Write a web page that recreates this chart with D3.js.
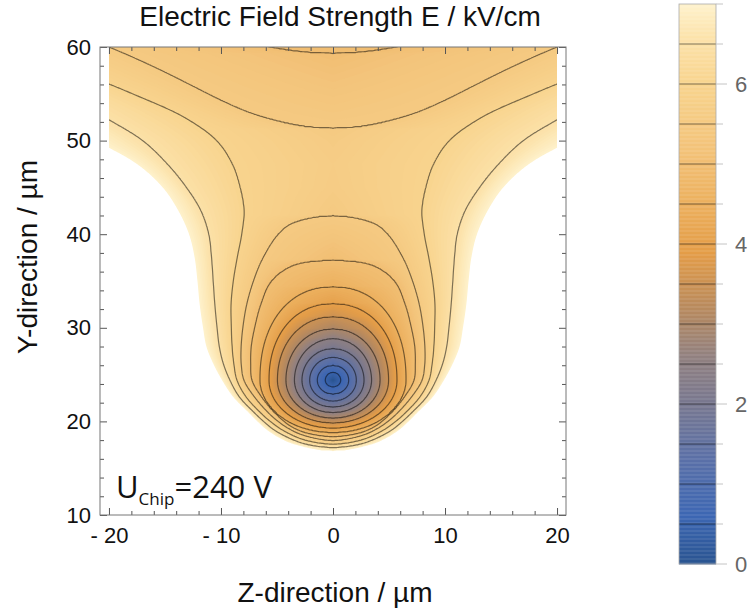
<!DOCTYPE html>
<html><head><meta charset="utf-8">
<script src="https://cdn.jsdelivr.net/npm/d3@7"></script>
<style>body{margin:0;background:#fff}svg{display:block}</style>
</head><body>
<svg id="c" width="750" height="612"></svg>
<script>
// ================= data =================
const trapCenterY = 24.4;                                   // field minimum on Z = 0 (µm)
const contourLevels = [0.5, 1, 1.5, 2, 2.5, 3, 3.5, 4, 4.5, 5, 5.5, 6, 6.5];
const plotRangeMax = 7;
// inner closed level lines (kV/cm) around the trap: half width, extent up, extent down (µm)
const innerLevels  = [0.5, 1.0, 1.5, 2.0, 2.5, 3.0, 3.5, 4.0, 4.5];
const innerHalfW   = [0.69, 1.40, 2.08, 2.77, 3.44, 4.20, 4.96, 5.71, 6.52];
const innerTop     = [0.85, 1.60, 2.45, 3.40, 4.45, 5.50, 6.80, 8.20, 10.0];
const innerBottom  = [0.72, 1.50, 2.24, 2.88, 3.47, 4.06, 4.59, 5.13, 5.61];
const innerShapeTop = [2, 2, 2, 2, 2, 2.05, 2.1, 2.15, 2.2];
// outer level lines: [|Z|, Y] in µm, from the bottom upward
const outerLevels = [5.0, 5.5, 6.0, 6.5, 7.0];
const line50 = [[0,18.36],[2.5,18.8],[3.8,19.5],[4.35,20],[5.15,20.9],[6.35,22.6],[7.23,24.4],[7.35,26.2],[7.3,28],[7.0,30],[6.45,32.5],[5.5,35],[3.5,36.7],[0,37.22]];
const line55 = [[0,17.94],[2.6,18.5],[3.9,19.2],[4.9,20],[5.75,20.9],[7.0,22.6],[7.95,24.4],[8.2,26.2],[8.2,28],[8.05,30],[7.7,32.5],[7.1,35],[6.25,37.5],[4.9,40],[3.6,41.2],[0,42.0]];
const line60 = [[0,17.56],[2.5,18],[4.4,19],[5.6,20],[6.45,20.9],[7.75,22.6],[8.57,24.4],[8.85,26.2],[9.0,28],[9.07,30],[9.1,32.5],[8.9,35],[8.55,37.5],[8.15,40],[7.95,42.5],[8.3,45],[9.0,47.5],[10.4,50],[13.3,52.5],[17.9,55],[23,57.5],[28,60],[33,62.5]];
const line65 = [[0,17.19],[2.2,17.5],[3.5,18],[5.15,19],[6.2,20],[7.0,20.9],[8.35,22.6],[9.2,24.4],[9.8,26.2],[10.15,28],[10.35,30],[10.55,32.5],[10.7,35],[10.85,37.5],[11.1,40],[11.8,42.5],[13.1,45],[14.8,47.5],[17.0,50],[20.4,52.5],[24,55],[28,57.5],[32,60],[36,62.5]];
const line70 = [[0,16.81],[3.3,17.5],[4.4,18],[5.8,19],[6.75,20],[7.5,20.9],[8.9,22.6],[9.9,24.4],[10.7,26.2],[11.3,28],[11.6,30],[11.9,32.5],[12.1,35],[12.35,37.5],[12.85,40],[13.8,42.5],[15.2,45],[17.5,47.5],[21.2,50],[25,52.5],[29,55],[33,57.5],[37,60],[41,62.5]];
// E along the Z = 0 axis above the closed 5.5 loop (saddle region)
const axisProfileY = [42.0, 45, 47.5, 50, 51.3, 52.5, 55, 57.5, 59.3, 60, 61];
const axisProfileE = [5.5, 5.62, 5.65, 5.58, 5.5, 5.43, 5.28, 5.12, 5.0, 4.95, 4.9];
// upper level lines near the top edge: height Y (µm) at |Z|
const cap55Z = [0, 2.5, 5, 7.5, 10, 12.5, 15, 17.5, 20, 22.5];
const cap55Y = [51.3, 51.5, 52.1, 53.0, 54.3, 55.8, 57.3, 58.7, 60.0, 61.3];
const cap50Z = [0, 2.5, 5, 7.5, 10];
const cap50Y = [59.3, 59.45, 59.85, 60.45, 61.2];

const xTickValues = [-20, -10, 0, 10, 20];
const xTickLabels = ["- 20", "- 10", "0", "10", "20"];
const yTickValues = [10, 20, 30, 40, 50, 60];
const cbTickValues = [0, 2, 4, 6];
const titleText = "Electric Field Strength E / kV/cm";
const xLabel = "Z-direction / µm";
const yLabel = "Y-direction / µm";

// ================= colour gradient =================
const colorVals = [0, 0.6, 1.3, 2.0, 2.6, 3.2, 3.9, 4.5, 5.2, 6.0, 6.6, 7.0];
const colorHex = ["#2a5490","#3d67b3","#5a70a8","#787890","#928180","#b88a5e","#e49d48","#ecb05e","#f3c37a","#f8d48e","#fce3ac","#fef2cc"];
const color = d3.scaleLinear().domain(colorVals).range(colorHex).clamp(true);

const svg = d3.select('#c');
const x = d3.scaleLinear().domain([-20.8, 20.8]).range([100, 566]);
const y = d3.scaleLinear().domain([10, 60]).range([515, 47]);

// ================= field reconstruction from the level lines =================
function hermite(xs, ys, xv, m0) {
  const n = xs.length;
  const tan = k => {
    if (k === 0) return m0 !== undefined ? m0 : (ys[1]-ys[0])/(xs[1]-xs[0]);
    if (k === n-1) return (ys[n-1]-ys[n-2])/(xs[n-1]-xs[n-2]);
    return (ys[k+1]-ys[k-1])/(xs[k+1]-xs[k-1]);
  };
  if (xv <= xs[0]) return ys[0] + tan(0)*(xv-xs[0]);
  if (xv >= xs[n-1]) return ys[n-1] + tan(n-1)*(xv-xs[n-1]);
  let i = 0; while (xv > xs[i+1]) i++;
  const h = xs[i+1]-xs[i], t = (xv-xs[i])/h, t2 = t*t, t3 = t2*t;
  return (2*t3-3*t2+1)*ys[i] + (t3-2*t2+t)*h*tan(i) + (-2*t3+3*t2)*ys[i+1] + (t3-t2)*h*tan(i+1);
}
function makeInverse(zs, ys) {
  const samp = d3.range(0, zs[zs.length-1] + 0.001, 0.02).map(z => [z, hermite(zs, ys, z, 0)]);
  return Y => {
    if (Y < samp[0][1]) return null;
    for (let k = 1; k < samp.length; k++)
      if (samp[k][1] >= Y) { const a = samp[k-1], b = samp[k]; return a[0] + (b[0]-a[0])*(Y-a[1])/(b[1]-a[1]); }
    return 40;
  };
}
const capInverse = { 5.5: makeInverse(cap55Z, cap55Y), 5.0: makeInverse(cap50Z, cap50Y) };

// smooth (centripetal Catmull-Rom) traced line, mirrored at the axis so the tips stay round
function smoothHalf(pts) {
  const closed = pts[pts.length-1][0] === 0;
  const full = [[-pts[1][0], pts[1][1]], ...pts];
  if (closed) full.push([-pts[pts.length-2][0], pts[pts.length-2][1]]);
  else { const a = pts[pts.length-2], b = pts[pts.length-1]; full.push([2*b[0]-a[0], 2*b[1]-a[1]]); }
  const out = [];
  const dist = (p, q) => Math.pow(Math.hypot(q[0]-p[0], q[1]-p[1]), 0.5) || 1e-6;
  for (let i = 1; i < full.length - 2; i++) {
    const P0 = full[i-1], P1 = full[i], P2 = full[i+1], P3 = full[i+2];
    const t0 = 0, t1 = t0 + dist(P0,P1), t2 = t1 + dist(P1,P2), t3 = t2 + dist(P2,P3);
    for (let s = 0; s < 24; s++) {
      const t = t1 + (t2-t1)*s/24;
      const lerp = (A, B, ta, tb) => [ (tb-t)/(tb-ta)*A[0] + (t-ta)/(tb-ta)*B[0], (tb-t)/(tb-ta)*A[1] + (t-ta)/(tb-ta)*B[1] ];
      const A1 = lerp(P0,P1,t0,t1), A2 = lerp(P1,P2,t1,t2), A3 = lerp(P2,P3,t2,t3);
      const B1 = lerp(A1,A2,t0,t2), B2 = lerp(A2,A3,t1,t3);
      out.push(lerp(B1,B2,t1,t2));
    }
  }
  out.push(full[full.length-2]);
  return { samples: out, bottom: pts[0][1], top: closed ? pts[pts.length-1][1] : Infinity };
}
const outerLines = [line50, line55, line60, line65, line70].map(smoothHalf);
function lineCrossing(ol, Y) {
  if (Y < ol.bottom || Y > ol.top) return null;
  const s = ol.samples;
  for (let i = 1; i < s.length; i++) {
    const a = s[i-1], b = s[i];
    if ((a[1] - Y) * (b[1] - Y) <= 0 && a[1] !== b[1]) return Math.abs(a[0] + (b[0]-a[0])*(Y-a[1])/(b[1]-a[1]));
  }
  return null;
}
const allLevels = [...innerLevels, ...outerLevels];
function crossing(k, Y) {
  const dy = Y - trapCenterY;
  if (k < innerLevels.length) {
    const a = innerHalfW[k];
    if (dy <= 0) { const u = -dy / innerBottom[k]; return u >= 1 ? null : a * Math.sqrt(1 - u*u); }
    const u = dy / innerTop[k]; if (u >= 1) return null;
    const n = innerShapeTop[k]; return a * Math.pow(1 - Math.pow(u, n), 1/n);
  }
  const L = allLevels[k], ol = outerLines[k - innerLevels.length];
  if (Y > ol.top) return capInverse[L] ? capInverse[L](Y) : null;
  return lineCrossing(ol, Y);
}
// E along the Z = 0 axis
const e0Pts = [];
outerLines.slice().reverse().forEach((ol, i) => e0Pts.push([ol.bottom, outerLevels[outerLevels.length-1-i]]));
for (let k = innerLevels.length-1; k >= 0; k--) e0Pts.push([trapCenterY - innerBottom[k], innerLevels[k]]);
e0Pts.push([trapCenterY, 0]);
innerLevels.forEach((L, k) => e0Pts.push([trapCenterY + innerTop[k], L]));
outerLines.forEach((ol, i) => { if (isFinite(ol.top)) e0Pts.push([ol.top, outerLevels[i]]); });
axisProfileY.forEach((v, i) => { if (v > e0Pts[e0Pts.length-1][0]) e0Pts.push([v, axisProfileE[i]]); });
const E0 = d3.scaleLinear().domain(e0Pts.map(p => p[0])).range(e0Pts.map(p => p[1]));

function rowProfile(Y) {
  const e0 = E0(Y), pts = [[0, e0]];
  allLevels.forEach((L, k) => {
    if (L > e0) { const z = crossing(k, Y); if (z !== null && z > pts[pts.length-1][0] + 1e-6) pts.push([z, L]); }
  });
  return pts;
}
function evalRow(pts, Z) {
  Z = Math.abs(Z);
  if (pts.length === 1) return pts[0][1] + Z;
  for (let i = 1; i < pts.length; i++)
    if (Z <= pts[i][0]) { const a = pts[i-1], b = pts[i]; return a[1] + (b[1]-a[1])*(Z-a[0])/(b[0]-a[0]); }
  const a = pts[pts.length-2], b = pts[pts.length-1];
  return b[1] + (b[1]-a[1])/(b[0]-a[0]) * (Z - b[0]);
}

const gs = 0.1, z0 = -20.4, yTop = 60.4;
const nx = Math.round(40.8/gs) + 1, ny = Math.round(50.8/gs) + 1;
const vals = new Float64Array(nx*ny);
for (let r = 0; r < ny; r++) {
  const pts = rowProfile(yTop - r*gs);
  for (let c = 0; c < nx; c++) vals[r*nx+c] = evalRow(pts, z0 + c*gs);
}
const proj = d3.geoTransform({ point(px, py){ this.stream.point(x(z0 + (px-0.5)*gs), y(yTop - (py-0.5)*gs)); } });
const path = d3.geoPath(proj);
const gen = d3.contours().size([nx, ny]);

svg.append('defs').append('clipPath').attr('id','clip').append('rect')
  .attr('x', x(-20)).attr('y', y(60)).attr('width', x(20)-x(-20)).attr('height', y(10)-y(60));
const plot = svg.append('g').attr('clip-path','url(#clip)');
d3.range(0, plotRangeMax - 1e-9, 0.05).forEach(t => {
  plot.append('path').attr('d', path(gen.contour(vals, t))).attr('fill', color(t + 0.025));
});
plot.append('path').attr('d', path(gen.contour(vals, plotRangeMax))).attr('fill', '#fff');
contourLevels.forEach(t => {
  plot.append('path').attr('d', path(gen.contour(vals, t))).attr('fill','none')
    .attr('stroke','#000').attr('stroke-opacity',0.5).attr('stroke-width',1.2);
});

// ================= frame & axes =================
const fx0 = x(-20.8), fx1 = x(20.8), fy0 = y(60), fy1 = y(10);
const xMinor = d3.range(-20, 20.1, 2).filter(v => !xTickValues.includes(v));
const yMinor = d3.range(10, 60.1, 2).filter(v => !yTickValues.includes(v));
const sans = 'Liberation Sans, Arial, sans-serif';
function styleAxis(g){ g.select('.domain').remove(); g.selectAll('line').attr('stroke','#555'); g.selectAll('text').attr('fill','#111').style('font-family',sans).style('font-size','22px'); }
svg.append('g').attr('transform',`translate(0,${fy1})`).call(d3.axisBottom(x).tickValues(xTickValues).tickFormat((d,i)=>xTickLabels[i]).tickSizeInner(-7).tickSizeOuter(0).tickPadding(12)).call(styleAxis);
svg.append('g').attr('transform',`translate(0,${fy1})`).call(d3.axisBottom(x).tickValues(xMinor).tickFormat('').tickSizeInner(-4).tickSizeOuter(0)).call(styleAxis);
svg.append('g').attr('transform',`translate(0,${fy0})`).call(d3.axisTop(x).tickValues(xTickValues).tickFormat('').tickSizeInner(-7).tickSizeOuter(0)).call(styleAxis);
svg.append('g').attr('transform',`translate(0,${fy0})`).call(d3.axisTop(x).tickValues(xMinor).tickFormat('').tickSizeInner(-4).tickSizeOuter(0)).call(styleAxis);
svg.append('g').attr('transform',`translate(${fx0},0)`).call(d3.axisLeft(y).tickValues(yTickValues).tickFormat(d3.format('d')).tickSizeInner(-7).tickSizeOuter(0).tickPadding(9)).call(styleAxis);
svg.append('g').attr('transform',`translate(${fx0},0)`).call(d3.axisLeft(y).tickValues(yMinor).tickFormat('').tickSizeInner(-4).tickSizeOuter(0)).call(styleAxis);
svg.append('g').attr('transform',`translate(${fx1},0)`).call(d3.axisRight(y).tickValues(yTickValues).tickFormat('').tickSizeInner(-7).tickSizeOuter(0)).call(styleAxis);
svg.append('g').attr('transform',`translate(${fx1},0)`).call(d3.axisRight(y).tickValues(yMinor).tickFormat('').tickSizeInner(-4).tickSizeOuter(0)).call(styleAxis);
svg.append('rect').attr('x',fx0).attr('y',fy0).attr('width',fx1-fx0).attr('height',fy1-fy0)
  .attr('fill','none').attr('stroke','#777').attr('stroke-width',1);

// ================= texts =================
svg.append('text').attr('x', 340).attr('y', 26).attr('text-anchor','middle')
  .style('font-family', sans).style('font-size','28px').attr('fill','#111').text(titleText);
svg.append('text').attr('x', 335).attr('y', 602).attr('text-anchor','middle')
  .style('font-family', sans).style('font-size','28px').attr('fill','#111').text(xLabel);
svg.append('text').attr('transform','translate(37,257) rotate(-90)').attr('text-anchor','middle')
  .style('font-family', sans).style('font-size','28px').attr('fill','#111').text(yLabel);
const ann = svg.append('text').attr('x', 116).attr('y', 498)
  .style('font-family','Open Sans, sans-serif').style('font-size','31px').attr('fill','#111');
ann.append('tspan').text('U');
ann.append('tspan').attr('dy', 7).style('font-size','17px').text('Chip');
ann.append('tspan').attr('dy', -7).text('=240 V');

// ================= colour bar =================
const cbY = d3.scaleLinear().domain([0, plotRangeMax]).range([564, 4]);
const cbX0 = 679, cbX1 = 716;
const cb = svg.append('g');
d3.range(0, plotRangeMax - 1e-9, 0.01).forEach(v => {
  cb.append('rect').attr('x', cbX0).attr('width', cbX1-cbX0)
    .attr('y', cbY(v+0.01)).attr('height', cbY(v)-cbY(v+0.01)+0.4).attr('fill', color(v+0.005));
});
contourLevels.forEach(v => {
  cb.append('line').attr('x1',cbX0).attr('x2',cbX1).attr('y1',cbY(v)).attr('y2',cbY(v))
    .attr('stroke','#000').attr('stroke-opacity',0.5).attr('stroke-width',1.2);
});
cb.append('rect').attr('x',cbX0).attr('y',cbY(plotRangeMax)).attr('width',cbX1-cbX0).attr('height',cbY(0)-cbY(plotRangeMax))
  .attr('fill','none').attr('stroke','#aaa').attr('stroke-width',0.8);
d3.range(0, plotRangeMax+0.01, 0.5).forEach(v => {
  const major = cbTickValues.includes(v);
  cb.append('line').attr('x1',cbX1).attr('x2',cbX1+(major?11:7)).attr('y1',cbY(v)).attr('y2',cbY(v))
    .attr('stroke','#c4c4c4').attr('stroke-width',1);
});
cbTickValues.forEach(v => {
  cb.append('text').attr('x', 735).attr('y', cbY(v)).attr('dy','0.36em')
    .style('font-family', sans).style('font-size','22px').attr('fill','#666').text(d3.format('d')(v));
});
</script>
</body></html>
